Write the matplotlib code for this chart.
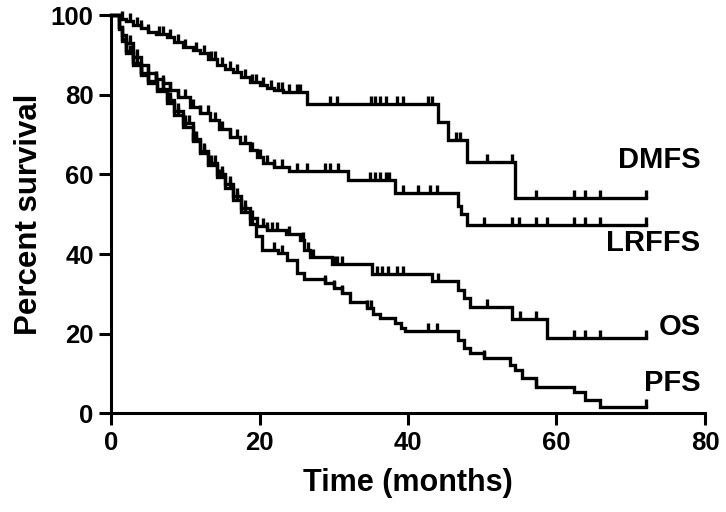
import numpy as np
import matplotlib
matplotlib.use("Agg")
import matplotlib.pyplot as plt
from matplotlib.markers import TICKUP

plt.rcParams["font.family"] = ["Liberation Sans", "DejaVu Sans"]
plt.rcParams["font.weight"] = "bold"

# step points: time (months), survival (%) after the step
dmfs_t = [0, 1, 2, 3, 4, 5, 6, 7.5, 8.5, 9.7, 11, 12, 13, 14.3, 15.3, 16.4, 17.5,
          18.7, 20, 21, 22, 23.1, 26.4, 44.1, 45.4, 47.9, 54.4]
dmfs_s = [100, 99, 98.5, 97.6, 96.8, 95.8, 95.2, 94.6, 93.3, 92.1, 91.3, 90.6, 89,
          87.5, 86.6, 85.8, 84.5, 83.3, 82.5, 81.8, 81.2, 80.8, 77.7, 73.2, 68.7,
          63.1, 54.1]
dmfs_c = [1.5, 2.5, 3.5, 4, 5, 6.5, 7, 8, 9, 10, 11.5, 12.5, 13.5, 14, 15, 16, 17,
          18, 19, 19.5, 20.5, 21.5, 22.5, 23, 24, 25, 25.5,
          29.5, 30.4, 35, 35.5, 36.2, 37.1, 38.5, 39.3, 42.7, 43.2, 46.5, 47,
          50.6, 54, 57.3, 62.4, 63.8, 65.8, 72]

lrffs_t = [0, 1, 1.5, 2, 3, 4, 5, 6, 7, 7.9, 9, 10.6, 12, 13.3, 14.5, 16, 17.3,
           18.7, 19.6, 20.5, 22, 24, 31.9, 38.2, 46.7, 47.2, 47.9]
lrffs_s = [100, 97, 95, 93, 89.5, 87.5, 85.5, 84, 83, 81.3, 79.5, 77, 75.5, 73.7,
           71.5, 69.4, 67.8, 66.2, 64.5, 62.9, 61.8, 60.8, 58.6, 55.3, 52, 50, 47.3]
lrffs_c = [2.5, 3.5, 5, 6, 7, 8, 9, 10, 11, 12, 13, 14, 15, 16, 17, 18, 19, 20,
           21, 22, 23, 25, 26.4, 28.8, 29.5,
           30.6, 34.9, 35.5, 36.2, 37, 37.5, 39.3, 41.3, 42.9, 43.9, 50.3, 54, 55,
           57.3, 58.7, 62.4, 63.8, 65.8, 72]

os_t = [0, 1, 1.5, 2, 3, 4, 5, 6.2, 7.5, 8.5, 9.7, 11, 12, 13, 14.3, 15.3, 16.4,
        17.5, 18.7, 19.7, 21, 23.5, 25.4, 26, 26.8, 29.7, 35.1, 43.2, 46.7, 47.5,
        48.3, 54, 58.7]
os_s = [100, 97, 94, 91, 88, 85.5, 83.5, 81.5, 78.7, 76, 73, 69, 66, 63, 60, 57.5,
        54.5, 51.5, 49, 47, 46, 45, 43.5, 41, 39.2, 37.5, 35, 33.2, 31, 29, 26.7,
        23.6, 18.9]
os_c = [2, 3, 4, 5, 6, 7, 8, 9, 10, 10.5, 11.5, 12.5, 13.5, 14, 15, 16, 17, 18,
        19, 20.5, 21, 21.7, 22.3, 24,
        25.8, 26.5, 27.2, 30, 30.5, 31.1, 35.8, 36.5, 37.3, 38.5, 39.3, 44, 50.6,
        55.1, 57.3, 62.4, 63.8, 65.8, 72]

pfs_t = [0, 1, 1.5, 2, 3, 4, 5, 6.2, 7.5, 8.5, 9.7, 11, 12, 13, 14.3, 15.3, 16.4,
         17.5, 18.7, 19.5, 20.3, 22.5, 23.7, 25, 26, 28.8, 30, 31.1, 32.2, 34.5,
         35.3, 36.2, 38.2, 39, 39.6, 46.7, 47.5, 48.3, 50.3, 53.7, 54.4, 55.3,
         57.3, 62.4, 63.8, 65.8]
pfs_s = [100, 96.5, 93.5, 90.5, 87.5, 85, 83, 81, 78, 75, 72, 68.5, 65.4, 62.5,
         59.4, 56.5, 53.6, 50.5, 47.5, 44.5, 41, 40.2, 38.5, 35.2, 33.7, 32.7, 31.4,
         30.2, 27.9, 26.5, 25, 23.9, 22.6, 21.4, 20.6, 18.5, 16.5, 15.1, 13.8, 12.1,
         10.8, 8.8, 6.5, 5.3, 3.3, 1.5]
pfs_c = [2.5, 3.5, 4, 6, 7, 8, 9, 10, 11, 11.5, 12.5, 13.5, 14.5, 15, 16, 17, 18,
         19, 22, 23, 28.8, 30, 31.1,
         34.5, 35, 42.7, 43.9, 50.3, 57.3, 72]

end_time = 72
curves = [
    ("DMFS", dmfs_t, dmfs_s, dmfs_c, 63.6),
    ("LRFFS", lrffs_t, lrffs_s, lrffs_c, 42.8),
    ("OS", os_t, os_s, os_c, 21.6),
    ("PFS", pfs_t, pfs_s, pfs_c, 7.5),
]

fig = plt.figure(figsize=(7.26, 5.12), dpi=100)
ax = fig.add_axes([0.153, 0.193, 0.818, 0.777])

for name, t, s, cens, label_y in curves:
    t = np.asarray(t, dtype=float)
    s = np.asarray(s, dtype=float)
    tt = np.append(t, end_time)
    ss = np.append(s, s[-1])
    ax.step(tt, ss, where="post", color="black", lw=2.4, clip_on=False,
            solid_joinstyle="miter")
    cens = np.asarray(cens, dtype=float)
    idx = np.searchsorted(t, cens, side="right") - 1
    ax.plot(cens, s[idx], ls="none", marker=TICKUP, ms=5.5, mew=2.4,
            color="black", clip_on=False)
    ax.text(79.4, label_y, name, ha="right", va="center", fontsize=21,
            fontweight="bold")

ax.set_xlim(0, 80)
ax.set_ylim(0, 100)
ax.set_xticks([0, 20, 40, 60, 80])
ax.set_yticks([0, 20, 40, 60, 80, 100])
ax.spines["top"].set_visible(False)
ax.spines["right"].set_visible(False)
for sp in ("left", "bottom"):
    ax.spines[sp].set_linewidth(2.2)
ax.tick_params(direction="out", length=8.5, width=2.2, labelsize=18.5, pad=4)
for lab in ax.get_xticklabels() + ax.get_yticklabels():
    lab.set_fontweight("bold")

ax.set_xlabel("Time (months)", fontsize=22, fontweight="bold", labelpad=10)
ax.set_ylabel("Percent survival", fontsize=22.5, fontweight="bold", labelpad=5)

fig.savefig("out.png", dpi=100)
